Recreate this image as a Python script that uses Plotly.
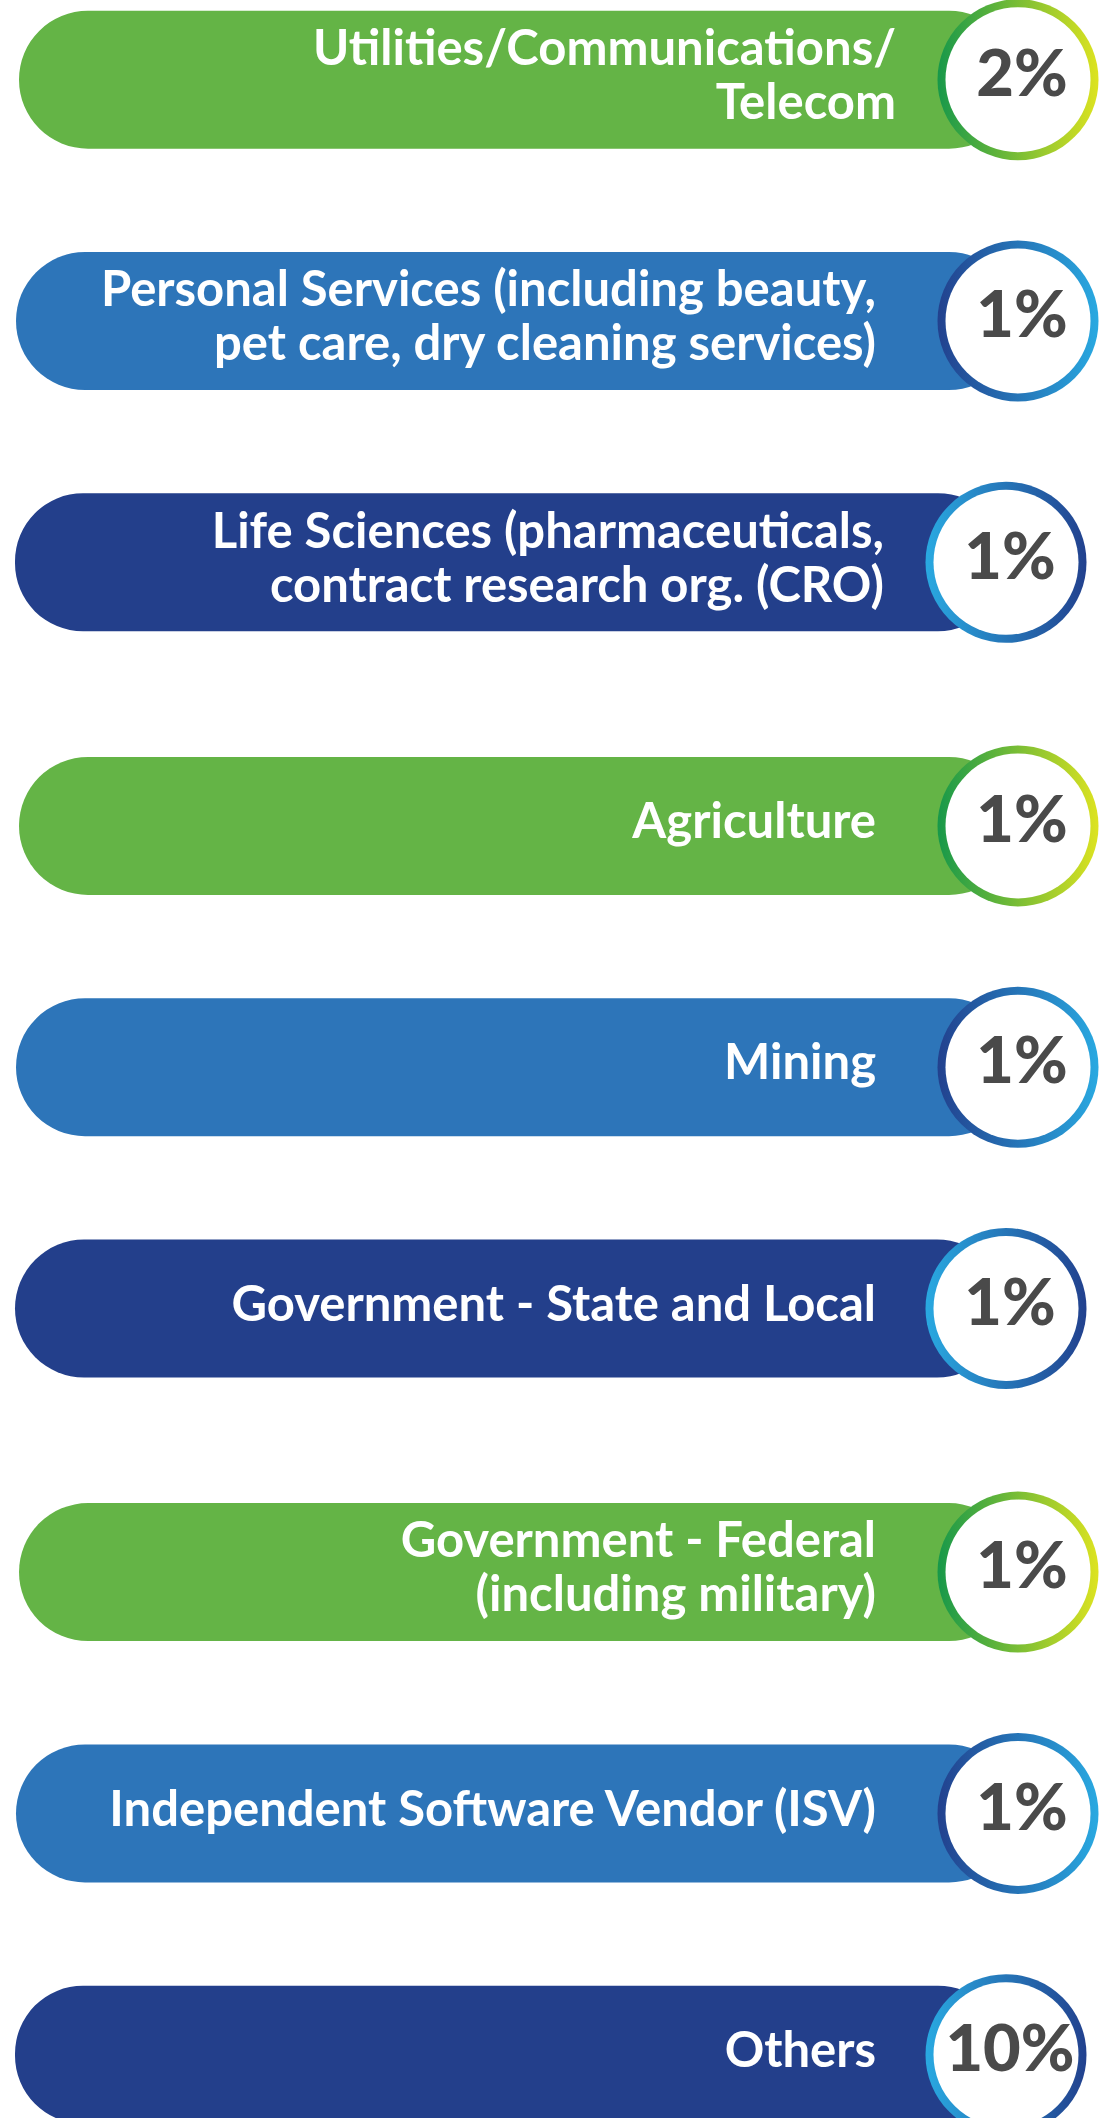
import plotly.graph_objects as go

# data
categories = [
    "Utilities/Communications/<br>Telecom",
    "Personal Services (including beauty,<br>pet care, dry cleaning services)",
    "Life Sciences (pharmaceuticals,<br>contract research org. (CRO)",
    "Agriculture",
    "Mining",
    "Government - State and Local",
    "Government - Federal<br>(including military)",
    "Independent Software Vendor (ISV)",
    "Others",
]
shares = [2, 1, 1, 1, 1, 1, 1, 1, 10]
color_keys = ["green", "blue", "navy"] * 3

# layout (pixels)
W, H = 1102, 2118
ROW_PX = 241.3      # pitch between rows
TOP_PX = 79.7       # centre of first row
GROUP_GAP = 22.3    # extra space after every third row
BAR_PX = 138
RING_OUT, RING_IN = 161, 145
LINE_PX = 54
LABEL_RIGHT = 876
label_right_fix = {0: 896, 2: 884}

styles = {
    "green": dict(fill="#64B446", ring=("#17984A", "#DDE320"), left=19, cx=1018),
    "blue": dict(fill="#2D75B9", ring=("#22418E", "#29A9E1"), left=16, cx=1018),
    "navy": dict(fill="#233F8B", ring=("#29A9E1", "#22418E"), left=15, cx=1006),
}

n = len(categories)
pos = [i + (i // 3) * GROUP_GAP / ROW_PX for i in range(n)]
st = [styles[k] for k in color_keys]
cx = [s["cx"] for s in st]

fig = go.Figure()

# rounded bars, drawn from circle centre leftwards so the rounded tip is on the left
fig.add_trace(go.Bar(
    orientation="h",
    y=pos,
    base=cx,
    x=[s["left"] - s["cx"] for s in st],
    width=BAR_PX / ROW_PX,
    marker=dict(color=[s["fill"] for s in st], cornerradius="50%", line=dict(width=0)),
    hoverinfo="skip",
))

# gradient ring + white disc
fig.add_trace(go.Scatter(
    x=cx, y=pos, mode="markers", hoverinfo="skip",
    marker=dict(size=RING_OUT, color=[s["ring"][0] for s in st],
                gradient=dict(type="horizontal", color=[s["ring"][1] for s in st]),
                line=dict(width=0)),
))
fig.add_trace(go.Scatter(
    x=cx, y=pos, mode="markers", hoverinfo="skip",
    marker=dict(size=RING_IN, color="white", line=dict(width=0)),
))

# percentages
fig.add_trace(go.Scatter(
    x=[c + 4 for c in cx], y=pos, mode="text", hoverinfo="skip",
    text=[f"{v}%" for v in shares],
    textposition="middle center",
    textfont=dict(family="Lato", size=65, color="#4A4A4A", weight=900),
))

# category labels, one text item per line
lx, ly, lt = [], [], []
for i, label in enumerate(categories):
    lines = label.split("<br>")
    for j, line in enumerate(lines):
        lx.append(label_right_fix.get(i, LABEL_RIGHT))
        ly.append(pos[i] + (j - (len(lines) - 1) / 2) * LINE_PX / ROW_PX)
        lt.append(line)
fig.add_trace(go.Scatter(
    x=lx, y=ly, mode="text", text=lt, hoverinfo="skip",
    textposition="middle left",
    marker=dict(size=1),
    textfont=dict(family="Lato", size=49, color="white", weight="bold"),
))

fig.update_layout(
    width=W, height=H,
    margin=dict(l=0, r=0, t=0, b=0),
    paper_bgcolor="white", plot_bgcolor="white",
    showlegend=False,
    xaxis=dict(range=[0, W], visible=False, fixedrange=True),
    yaxis=dict(range=[(H - TOP_PX) / ROW_PX, -TOP_PX / ROW_PX], visible=False, fixedrange=True),
)

fig.write_html(
    "out.html",
    config={"displayModeBar": False},
    post_script="document.body.style.margin='0';document.body.style.overflow='hidden';",
)
